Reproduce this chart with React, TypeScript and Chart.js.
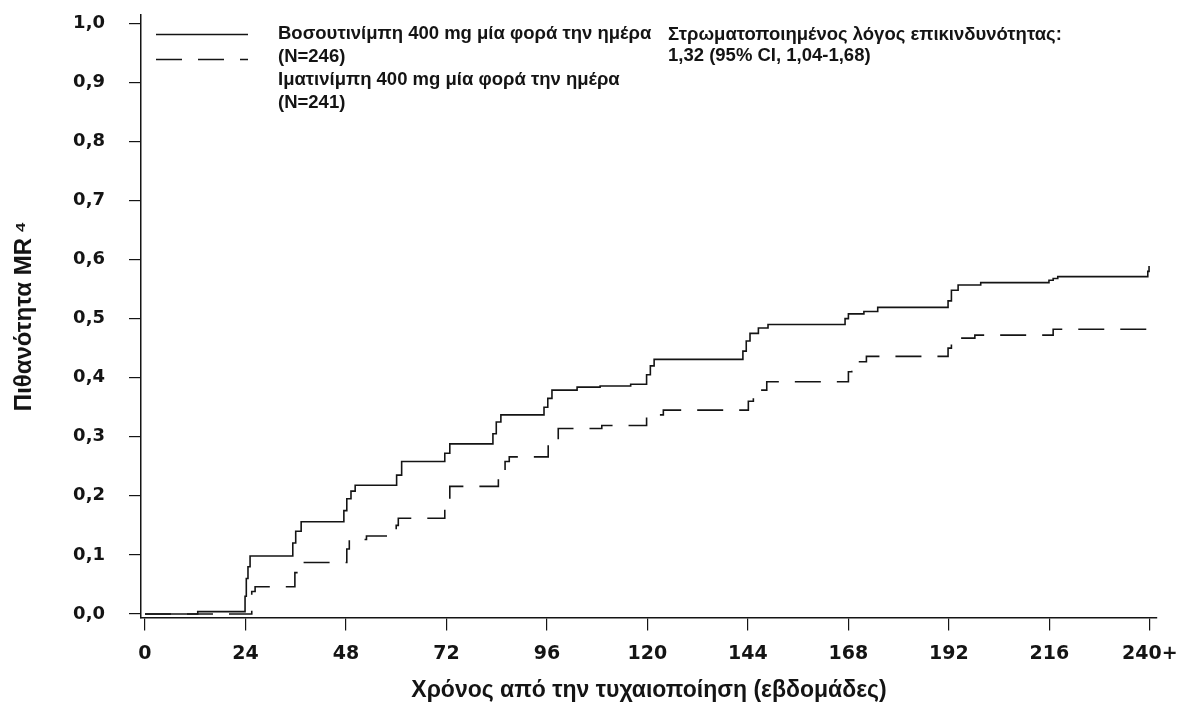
import React, { useEffect, useRef } from "react";
import { Chart, registerables } from "chart.js";

Chart.register(...registerables);

// Bosutinib 400 mg (solid) – cumulative probability of MR4 (step points)
const bosutinibWeeks = [0, 12.6, 23.9, 24.2, 24.6, 25.1, 35.3, 36.0, 37.3, 47.5, 48.2, 49.2, 50.2, 60.1, 61.3, 71.6, 72.8, 83.1, 83.9, 85.0, 95.3, 96.2, 97.2, 103.2, 108.7, 116.0, 119.8, 120.7, 121.6, 142.8, 143.6, 144.5, 146.5, 148.8, 167.2, 168.0, 171.7, 175.0, 191.8, 192.6, 194.2, 199.6, 215.9, 216.9, 218.0, 239.5, 239.8];
const bosutinibProb = [0, 0.004, 0.03, 0.06, 0.08, 0.098, 0.12, 0.14, 0.156, 0.175, 0.195, 0.208, 0.218, 0.235, 0.258, 0.272, 0.288, 0.305, 0.325, 0.337, 0.35, 0.365, 0.379, 0.384, 0.386, 0.389, 0.405, 0.42, 0.431, 0.445, 0.462, 0.475, 0.484, 0.49, 0.5, 0.508, 0.512, 0.519, 0.53, 0.548, 0.557, 0.561, 0.565, 0.568, 0.571, 0.58, 0.589];

// Imatinib 400 mg (dashed)
const imatinibWeeks = [0, 25.5, 26.3, 35.8, 36.6, 48.2, 48.8, 52.9, 60.0, 60.5, 71.6, 72.8, 84.4, 86.0, 87.0, 96.3, 98.7, 109.1, 119.8, 123.8, 144.1, 145.3, 148.5, 168.0, 168.8, 172.3, 191.8, 192.6, 198.2, 216.9, 239.5, 239.8];
const imatinibProb = [0, 0.038, 0.046, 0.07, 0.087, 0.11, 0.126, 0.132, 0.15, 0.162, 0.19, 0.216, 0.24, 0.258, 0.266, 0.29, 0.314, 0.319, 0.337, 0.345, 0.36, 0.379, 0.393, 0.41, 0.427, 0.436, 0.45, 0.467, 0.472, 0.482, 0.49, 0.498];

const xTickValues = [0, 24, 48, 72, 96, 120, 144, 168, 192, 216, 240];
const xTickLabels = ["0", "24", "48", "72", "96", "120", "144", "168", "192", "216", "240+"];
const yTickValues = [0, 0.1, 0.2, 0.3, 0.4, 0.5, 0.6, 0.7, 0.8, 0.9, 1.0];
const yTickLabels = ["0,0", "0,1", "0,2", "0,3", "0,4", "0,5", "0,6", "0,7", "0,8", "0,9", "1,0"];

const seriesNames = ["Βοσουτινίμπη 400 mg μία φορά την ημέρα (N=246)", "Ιματινίμπη 400 mg μία φορά την ημέρα (N=241)"];
const legendLines = ["Βοσουτινίμπη 400 mg μία φορά την ημέρα", "(N=246)", "Ιματινίμπη 400 mg μία φορά την ημέρα", "(N=241)"];
const hazardLines = ["Στρωματοποιημένος λόγος επικινδυνότητας:", "1,32 (95% CI, 1,04-1,68)"];
const xTitle = "Χρόνος από την τυχαιοποίηση (εβδομάδες)";
const yTitle = "Πιθανότητα MR\u2009\u2074";

const INK = "#141414";
const DASH = [26, 16];

const legendPlugin = {
  id: "kmLegend",
  afterDraw(chart: any) {
    const ctx = chart.ctx as CanvasRenderingContext2D;
    ctx.save();
    ctx.strokeStyle = INK;
    ctx.lineWidth = 1.5;
    ctx.beginPath();
    ctx.moveTo(156, 34.5);
    ctx.lineTo(248, 34.5);
    ctx.stroke();
    ctx.setLineDash(DASH);
    ctx.beginPath();
    ctx.moveTo(156, 59.5);
    ctx.lineTo(248, 59.5);
    ctx.stroke();
    ctx.setLineDash([]);
    ctx.fillStyle = INK;
    ctx.textBaseline = "alphabetic";
    ctx.textAlign = "left";
    ctx.font = 'bold 18.5px "Liberation Sans", Arial, sans-serif';
    legendLines.forEach((t, i) => ctx.fillText(t, 278, 38.5 + i * 23));
    hazardLines.forEach((t, i) => ctx.fillText(t, 668, 39.5 + i * 21.5));
    ctx.restore();
  },
};

export default function App() {
  const ref = useRef<HTMLCanvasElement | null>(null);

  useEffect(() => {
    if (!ref.current) return;
    const chart = new Chart(ref.current, {
      type: "line",
      data: {
        datasets: [
          {
            label: seriesNames[0],
            data: bosutinibWeeks.map((w, i) => ({ x: w, y: bosutinibProb[i] })),
            borderColor: INK,
            borderWidth: 1.6,
            pointRadius: 0,
            stepped: "before",
            fill: false,
          },
          {
            label: seriesNames[1],
            data: imatinibWeeks.map((w, i) => ({ x: w, y: imatinibProb[i] })),
            borderColor: INK,
            borderWidth: 1.6,
            borderDash: DASH,
            pointRadius: 0,
            stepped: "before",
            fill: false,
          },
        ],
      },
      options: {
        responsive: false,
        animation: false,
        devicePixelRatio: 1,
        layout: { padding: { left: 0, right: 23, top: 15, bottom: 0 } },
        plugins: {
          legend: { display: false },
          tooltip: { enabled: false },
        },
        scales: {
          x: {
            type: "linear",
            min: -0.95,
            max: 241.7,
            afterBuildTicks: (s: any) => {
              s.ticks = xTickValues.map((v) => ({ value: v }));
            },
            afterFit: (s: any) => {
              s.height = 90.5;
              s.paddingLeft = 0;
              s.paddingRight = 0;
            },
            ticks: {
              autoSkip: false,
              maxRotation: 0,
              padding: 12,
              color: INK,
              font: { family: '"DejaVu Sans", Verdana, sans-serif', size: 19, weight: "bold" },
              callback: (v: any) => xTickLabels[xTickValues.indexOf(Number(v))] ?? "",
            },
            grid: { display: true, drawOnChartArea: false, drawTicks: true, tickLength: 13, color: INK, lineWidth: 1.2 },
            border: { display: true, color: INK, width: 1.5 },
            title: {
              display: true,
              text: xTitle,
              color: INK,
              font: { family: '"Liberation Sans", Arial, sans-serif', size: 23, weight: "bold" },
              padding: { top: 0, bottom: 4 },
            },
          },
          y: {
            type: "linear",
            min: -0.006,
            max: 1.014,
            afterBuildTicks: (s: any) => {
              s.ticks = yTickValues.map((v) => ({ value: v }));
            },
            afterFit: (s: any) => {
              s.width = 141;
              s.paddingTop = 0;
              s.paddingBottom = 0;
            },
            ticks: {
              autoSkip: false,
              padding: 24,
              color: INK,
              font: { family: '"DejaVu Sans", Verdana, sans-serif', size: 18, weight: "bold" },
              callback: (v: any, i: number) => yTickLabels[i] ?? "",
            },
            grid: { display: true, drawOnChartArea: false, drawTicks: true, tickLength: 12, color: INK, lineWidth: 1.2 },
            border: { display: true, color: INK, width: 1.5 },
            title: {
              display: true,
              text: yTitle,
              color: INK,
              font: { family: '"Liberation Sans", Arial, sans-serif', size: 24, weight: "bold" },
              padding: { top: 9.6, bottom: 0 },
            },
          },
        },
      },
      plugins: [legendPlugin],
    });
    return () => chart.destroy();
  }, []);

  return (
    <div style={{ position: "fixed", left: 0, top: 0, width: 1180, height: 708, background: "#fff" }}>
      <canvas ref={ref} width={1180} height={708} style={{ display: "block" }} />
    </div>
  );
}
